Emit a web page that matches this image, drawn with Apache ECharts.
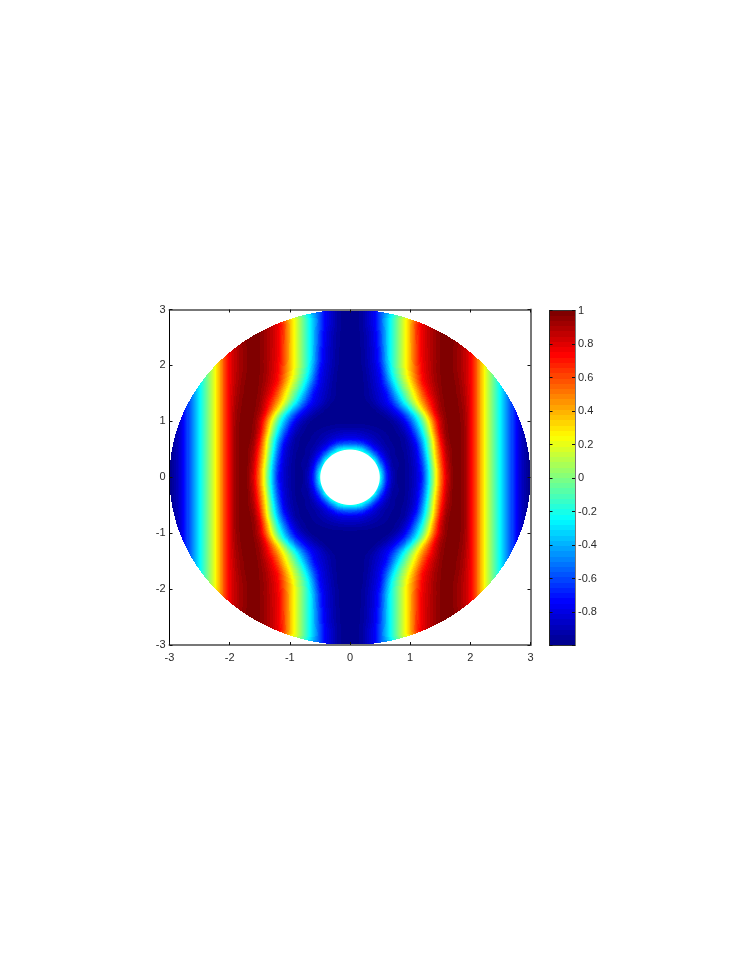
<!DOCTYPE html>
<html><head><meta charset="utf-8">
<style>html,body{margin:0;padding:0;background:#fff}#c{width:747px;height:967px}</style>
<script src="https://cdn.jsdelivr.net/npm/echarts@6/dist/echarts.min.js"></script>
</head><body><div id="c"></div>
<script>
// field values; rows are y = 0, 0.1 ... 3, columns x = 0, 0.1 ... 3 (the picture is mirror-symmetric)
const tail = [.58,.32,.10,-.09,-.27,-.45,-.62,-.8,-.93,-1];
const fieldRows = [
[-.1,-.1,-.1,-.1,-.1,-.2,-.65,-.9,-.98,-.98,-.92,-.85,-.71,-.33,.11,.5,.82,.98,1,.95,.78],
[-.1,-.1,-.1,-.1,-.1,-.26,-.67,-.9,-.98,-.98,-.93,-.85,-.69,-.32,.12,.5,.83,.98,1,.95,.78],
[-.1,-.1,-.1,-.1,-.1,-.4,-.74,-.93,-.97,-.98,-.93,-.84,-.66,-.29,.15,.54,.85,.98,1,.95,.78],
[-.1,-.1,-.1,-.1,-.2,-.58,-.81,-.94,-.97,-.98,-.92,-.83,-.61,-.25,.2,.57,.87,.98,1,.95,.78],
[-.1,-.1,-.1,-.2,-.48,-.72,-.87,-.97,-.98,-.98,-.91,-.82,-.57,-.2,.25,.6,.89,.98,1,.95,.78],
[-.2,-.22,-.3,-.5,-.7,-.83,-.92,-.96,-.98,-.97,-.9,-.8,-.5,-.13,.27,.65,.91,.98,1,.95,.78],
[-.55,-.57,-.62,-.73,-.83,-.9,-.95,-.97,-.98,-.96,-.88,-.75,-.45,-.1,.3,.71,.93,.99,1,.95,.79],
[-.78,-.79,-.81,-.85,-.89,-.93,-.96,-.98,-.98,-.96,-.84,-.66,-.37,-.04,.35,.76,.95,1,1,.95,.79],
[-.87,-.87,-.89,-.91,-.93,-.95,-.97,-.98,-.97,-.91,-.78,-.56,-.28,.06,.45,.82,.96,1,.99,.95,.79],
[-.95,-.95,-.95,-.96,-.97,-.98,-.99,-.98,-.95,-.86,-.7,-.45,-.19,.14,.51,.85,.97,1,.99,.95,.79],
[-.99,-.99,-.99,-.99,-.99,-.99,-.99,-.97,-.89,-.79,-.59,-.36,-.09,.22,.57,.85,.97,1,.99,.94,.79],
[-1,-1,-1,-1,-.99,-.98,-.96,-.88,-.8,-.68,-.46,-.25,.04,.36,.7,.9,.98,1,.98,.94,.79],
[-1,-1,-1,-.99,-.98,-.95,-.88,-.8,-.69,-.49,-.29,0,.26,.54,.77,.93,.98,1,.98,.93,.79],
[-1,-1,-.99,-.98,-.95,-.86,-.79,-.71,-.51,-.31,-.08,.16,.4,.62,.81,.94,.99,1,.97,.92,.78],
[-1,-1,-.98,-.96,-.9,-.83,-.77,-.6,-.4,-.16,.06,.27,.5,.69,.83,.95,.99,1,.97,.91,.78],
[-1,-1,-.98,-.95,-.89,-.82,-.75,-.52,-.3,-.08,.12,.33,.58,.77,.87,.96,1,.99,.96,.9,.78],
[-1,-1,-.98,-.95,-.87,-.8,-.68,-.44,-.17,0,.2,.41,.66,.78,.89,.96,1,.99,.96,.89,.78],
[-1,-1,-.98,-.94,-.86,-.78,-.59,-.33,-.12,.08,.27,.5,.73,.82,.91,.97,1,.99,.95,.88,.77],
[-1,-.99,-.98,-.93,-.85,-.77,-.54,-.25,-.06,.14,.33,.54,.75,.83,.91,.97,1,.98,.94,.87,.77],
[-1,-.99,-.98,-.92,-.84,-.75,-.47,-.2,-.02,.17,.37,.57,.76,.84,.93,.97,1,.98,.93,.87,.77],
[-1,-.99,-.97,-.91,-.83,-.72,-.44,-.19,0,.18,.38,.59,.77,.84,.92,.97,1,.98,.93,.87,.77],
[-1,-.99,-.97,-.9,-.82,-.67,-.39,-.17,0,.18,.39,.61,.78,.85,.92,.97,1,.98,.93,.87,.77],
[-1,-.99,-.97,-.9,-.82,-.67,-.39,-.17,0,.18,.39,.61,.78,.85,.92,.97,1,.98,.93,.87,.77],
[-1,-.99,-.97,-.9,-.82,-.67,-.39,-.17,0,.18,.39,.61,.78,.85,.92,.97,1,.98,.93,.87,.77],
[-1,-.99,-.96,-.89,-.8,-.63,-.38,-.17,0,.18,.39,.63,.78,.86,.92,.97,1,.98,.94,.88,.77],
[-1,-.99,-.96,-.89,-.8,-.63,-.38,-.17,0,.18,.39,.63,.78,.86,.92,.97,1,.98,.94,.88,.77],
[-1,-.99,-.96,-.89,-.8,-.63,-.38,-.17,0,.18,.39,.63,.78,.86,.92,.97,1,.98,.94,.88,.77],
[-1,-.99,-.95,-.86,-.78,-.58,-.38,-.18,0,.18,.39,.65,.79,.87,.93,.97,1],
[-1,-.99,-.95,-.86,-.78,-.58,-.38,-.18,0,.18,.39,.65,.79],
[-1,-.99,-.95,-.86,-.78,-.58,-.38,-.18,0,.18],
[-1,-.99,-.95,-.86,-.78,-.58]
];
const xTicks = [-3,-2,-1,0,1,2,3];
const barTicks = [1,.8,.6,.4,.2,0,-.2,-.4,-.6,-.8];
const jetStops = [[0,0,0,143],[1/8,0,0,255],[3/8,0,255,255],[5/8,255,255,0],[7/8,255,0,0],[1,128,0,0]];
const holeR = .495, outerR = 3;

const jet64 = [];
for (let i = 0; i < 64; i++) {
  const t = i / 63; let k = 0;
  while (k < jetStops.length - 2 && t > jetStops[k + 1][0]) k++;
  const a = jetStops[k], b = jetStops[k + 1], f = (t - a[0]) / (b[0] - a[0]);
  jet64.push([1, 2, 3].map(c => Math.round(a[c] + (b[c] - a[c]) * f)));
}
const rowsFull = fieldRows.map(r => r.concat(r.length === 21 ? tail : []));
const node = (i, j) => { const r = rowsFull[Math.min(j, 30)]; return r[Math.min(i, r.length - 1)]; };
function bilinear(x, y) {
  const ax = Math.abs(x) * 10, ay = Math.abs(y) * 10, i = Math.floor(ax), j = Math.floor(ay), fx = ax - i, fy = ay - j;
  return (node(i, j) * (1 - fx) + node(i + 1, j) * fx) * (1 - fy) + (node(i, j + 1) * (1 - fx) + node(i + 1, j + 1) * fx) * fy;
}
// shading only: soften the facets of the table away from the hole
function sample(x, y, r) {
  if (r < .8) return bilinear(x, y);
  const d = .07;
  return (bilinear(x, y) * 2 + bilinear(x - d, y) + bilinear(x + d, y) + bilinear(x, y - d) + bilinear(x, y + d)) / 6;
}
const cells = [];
for (let j = -30; j < 30; j++) for (let i = -30; i < 30; i++) cells.push([i / 10, (i + 1) / 10, j / 10, (j + 1) / 10]);
const barData = jet64.map((c, i) => [-1 + i / 32, -1 + (i + 1) / 32, i]);

function renderCell(params, api) {
  const x0 = api.value(0), x1 = api.value(1), y0 = api.value(2), y1 = api.value(3);
  const a = api.coord([x0, y1]), b = api.coord([x1, y0]);
  const L = Math.round(a[0]), T = Math.round(a[1]), w = Math.round(b[0]) - L, h = Math.round(b[1]) - T;
  if (w <= 0 || h <= 0) return null;
  const cv = document.createElement('canvas'); cv.width = w; cv.height = h;
  const ctx = cv.getContext('2d'), im = ctx.createImageData(w, h); let any = false;
  for (let py = 0; py < h; py++) for (let px = 0; px < w; px++) {
    const x = x0 + (L + px + .5 - a[0]) / (b[0] - a[0]) * (x1 - x0);
    const y = y1 + (T + py + .5 - a[1]) / (b[1] - a[1]) * (y0 - y1);
    const r = Math.hypot(x, y);
    if (r > outerR || r < holeR - .008) continue;
    const u = sample(x, y, r), c = jet64[Math.max(0, Math.min(63, Math.floor((u + 1) * 32)))], o = (py * w + px) * 4;
    im.data[o] = c[0]; im.data[o + 1] = c[1]; im.data[o + 2] = c[2];
    im.data[o + 3] = r < holeR + .008 ? Math.round(255 * (r - holeR + .008) / .016) : 255;
    any = true;
  }
  if (!any) return null;
  ctx.putImageData(im, 0, 0);
  return { type: 'image', silent: true, style: { image: cv, x: L, y: T, width: w, height: h } };
}
function renderBar(params, api) {
  const a = api.coord([0, api.value(1)]), b = api.coord([1, api.value(0)]);
  const T = Math.round(a[1]), B = Math.round(b[1]), c = jet64[api.value(2)];
  return { type: 'rect', silent: true, shape: { x: a[0], y: T, width: b[0] - a[0], height: B - T }, style: { fill: `rgb(${c[0]},${c[1]},${c[2]})` } };
}
const font = { fontFamily: '"Liberation Sans",Arial,sans-serif', fontSize: 11, color: '#2a2a2a' };
const line = (color, width) => ({ show: true, onZero: false, lineStyle: { color, width } });
const tick = { show: true, inside: true, length: 3, lineStyle: { color: '#111', width: 1 } };
const chart = echarts.init(document.getElementById('c'), null, { renderer: 'canvas' });
chart.setOption({
  animation: false, backgroundColor: '#fff',
  grid: [
    { left: 169.5, top: 309.5, width: 361, height: 335.5, show: false },
    { left: 549.5, top: 310.5, width: 25.5, height: 335, show: false }
  ],
  xAxis: [
    { gridIndex: 0, type: 'value', min: -3, max: 3, interval: 1, position: 'bottom', z: 10, axisLine: line('#777', 2), axisTick: tick, axisLabel: { ...font, margin: 7 }, splitLine: { show: false } },
    { gridIndex: 0, type: 'value', min: -3, max: 3, interval: 1, position: 'top', z: 10, axisLine: line('#777', 2), axisTick: tick, axisLabel: { show: false }, splitLine: { show: false } },
    { gridIndex: 1, type: 'value', min: 0, max: 1, position: 'bottom', z: 10, axisLine: line('#333', 1), axisTick: { show: false }, axisLabel: { show: false }, splitLine: { show: false } },
    { gridIndex: 1, type: 'value', min: 0, max: 1, position: 'top', z: 10, axisLine: line('#333', 1), axisTick: { show: false }, axisLabel: { show: false }, splitLine: { show: false } }
  ],
  yAxis: [
    { gridIndex: 0, type: 'value', min: -3, max: 3, interval: 1, position: 'left', z: 10, axisLine: line('#000', 1), axisTick: tick, axisLabel: { ...font, margin: 4 }, splitLine: { show: false } },
    { gridIndex: 0, type: 'value', min: -3, max: 3, interval: 1, position: 'right', z: 10, axisLine: line('#777', 2), axisTick: tick, axisLabel: { show: false }, splitLine: { show: false } },
    { gridIndex: 1, type: 'value', min: -1, max: 1, interval: .2, position: 'right', z: 10, axisLine: line('#777', 1), axisTick: tick,
      axisLabel: { ...font, margin: 3, formatter: v => { const n = Math.round(v * 10) / 10; return barTicks.includes(n) ? String(n) : ''; } }, splitLine: { show: false } },
    { gridIndex: 1, type: 'value', min: -1, max: 1, interval: .2, position: 'left', z: 10, axisLine: line('#222', 1), axisTick: tick, axisLabel: { show: false }, splitLine: { show: false } }
  ],
  series: [
    { type: 'custom', xAxisIndex: 0, yAxisIndex: 0, coordinateSystem: 'cartesian2d', renderItem: renderCell, data: cells, encode: { x: [0, 1], y: [2, 3] }, clip: false, silent: true, progressive: 0, animation: false, z: 2 },
    { type: 'custom', xAxisIndex: 2, yAxisIndex: 2, coordinateSystem: 'cartesian2d', renderItem: renderBar, data: barData, encode: { y: [0, 1] }, clip: false, silent: true, progressive: 0, animation: false, z: 2 }
  ]
});
</script></body></html>
